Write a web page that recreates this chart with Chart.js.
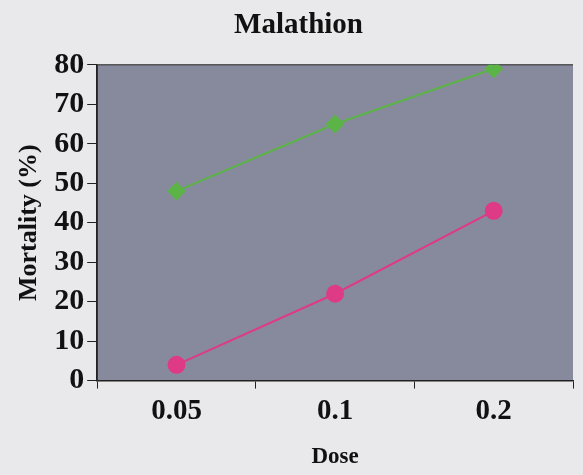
<!DOCTYPE html>
<html>
<head>
<meta charset="utf-8">
<script src="https://cdn.jsdelivr.net/npm/chart.js@4.4.1/dist/chart.umd.min.js"></script>
<style>
  html, body { margin: 0; padding: 0; background: #e9e9eb; }
</style>
</head>
<body>
<canvas id="Chart" width="583" height="475"></canvas>
<script>
'use strict';
// données
const doses = ['0.05', '0.1', '0.2'];
const serieVerte = [48, 65, 79];
const serieRose = [4, 22, 43];
const yMin = 0, yMax = 80, yPas = 10;

// fond gris de la zone de tracé + bordure haut/gauche
const fondPlot = {
    id: 'fondPlot',
    beforeDraw(chart) {
        const { ctx, chartArea: a } = chart;
        ctx.save();
        ctx.fillStyle = '#868a9c';
        ctx.fillRect(a.left, a.top, a.right - a.left, a.bottom - a.top);
        ctx.strokeStyle = '#222';
        ctx.lineWidth = 1;
        ctx.beginPath();
        ctx.moveTo(a.left, a.bottom);
        ctx.lineTo(a.left, a.top);
        ctx.lineTo(a.right, a.top);
        ctx.stroke();
        ctx.restore();
    }
};

const police = 'Liberation Serif, Times New Roman, serif';

new Chart(document.getElementById('Chart').getContext('2d'), {
    type: 'line',
    data: {
        labels: doses,
        datasets: [
            { label: 'vert', data: serieVerte, borderColor: '#5cb447', backgroundColor: '#5cb447',
              borderWidth: 2, pointStyle: 'rectRot', pointRadius: 8, fill: false },
            { label: 'rose', data: serieRose, borderColor: '#de3a86', backgroundColor: '#de3a86',
              borderWidth: 2, pointStyle: 'circle', pointRadius: 8, fill: false }
        ]
    },
    options: {
        responsive: false,
        animation: false,
        layout: { padding: { left: 14, right: 0, top: 4, bottom: 4 } },
        plugins: {
            legend: { display: false },
            tooltip: { enabled: false },
            title: { display: true, text: 'Malathion', color: '#111',
                     font: { family: police, size: 29, weight: 'bold' }, padding: { top: 4, bottom: 22 } }
        },
        scales: {
            x: {
                offset: true,
                grid: { display: true, offset: true, drawOnChartArea: false, color: '#222', tickLength: 8 },
                border: { color: '#222', width: 1.5 },
                ticks: { color: '#111', font: { family: police, size: 29, weight: 'bold' }, padding: 6 },
                title: { display: true, text: 'Dose', color: '#111',
                         font: { family: police, size: 23, weight: 'bold' }, padding: { top: 8, bottom: 0 } }
            },
            y: {
                min: yMin, max: yMax,
                grid: { display: true, drawOnChartArea: false, color: '#222', tickLength: 10 },
                border: { color: '#222', width: 1.5 },
                ticks: { stepSize: yPas, autoSkip: false, color: '#111',
                         font: { family: police, size: 30, weight: 'bold', lineHeight: 1 }, padding: 3 },
                title: { display: true, text: 'Mortality (%)', color: '#111',
                         font: { family: police, size: 26, weight: 'bold' }, padding: { top: 0, bottom: 6 } }
            }
        }
    },
    plugins: [fondPlot]
});
</script>
</body>
</html>
